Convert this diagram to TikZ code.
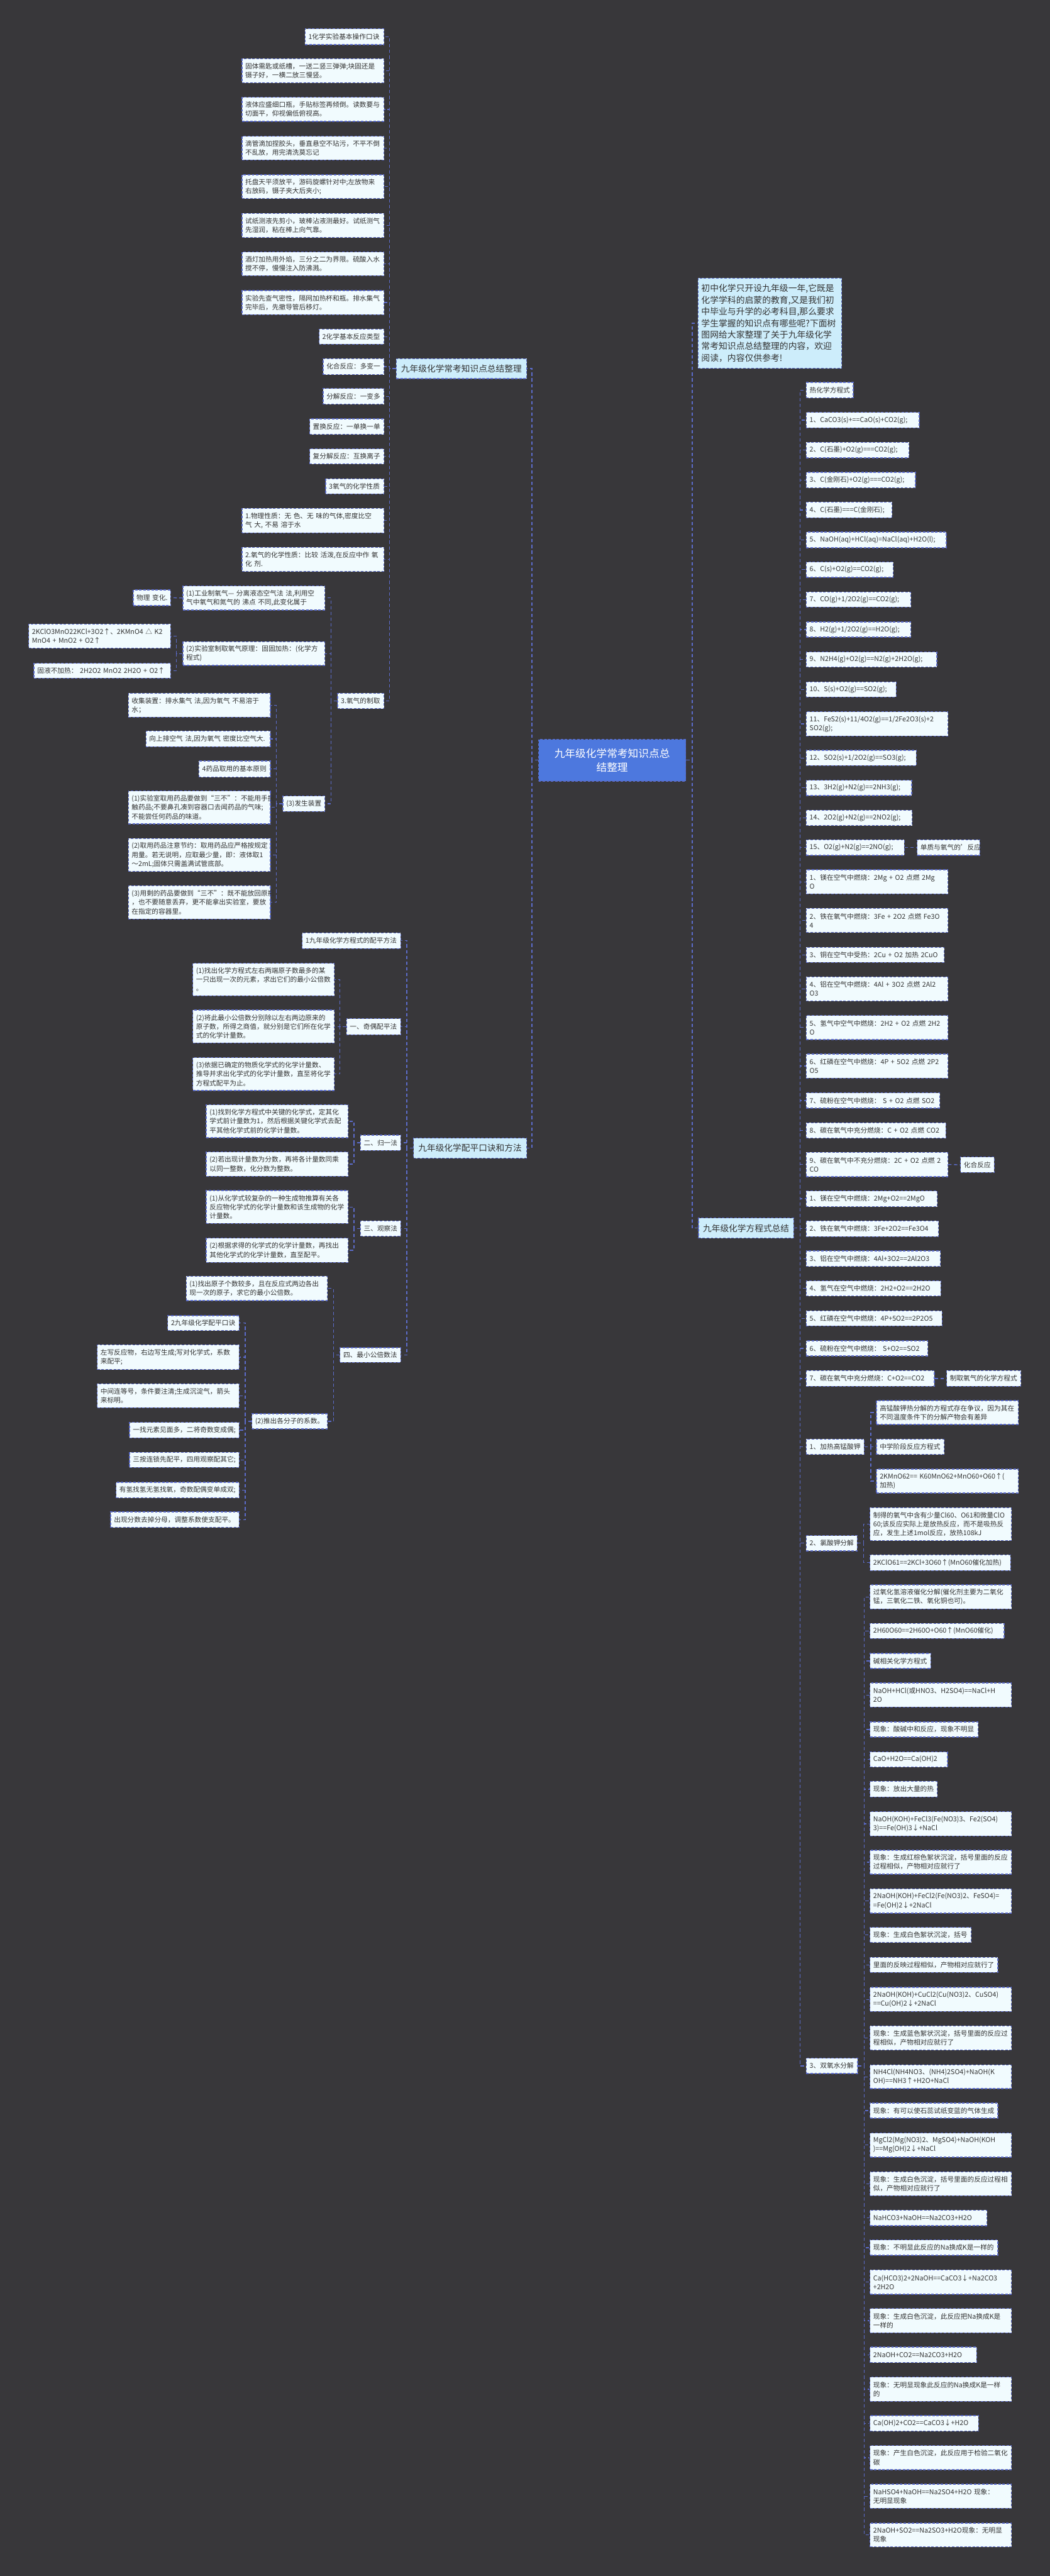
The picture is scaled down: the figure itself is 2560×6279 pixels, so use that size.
\documentclass[tikz,border=0pt]{standalone}
\usepackage{fontspec}
\setmainfont{Noto Sans CJK SC}
\definecolor{bgc}{HTML}{38373A}
\definecolor{boxf}{HTML}{F1FBFE}
\definecolor{brf}{HTML}{CDEDFB}
\definecolor{rootf}{HTML}{4D78DE}
\definecolor{bord}{HTML}{5C6CCB}
\definecolor{txt}{HTML}{333333}
\newcommand{\fsm}{\fontsize{4.1pt}{5.4pt}\selectfont}
\newcommand{\fbr}{\fontsize{5.25pt}{6.6pt}\selectfont}
\newcommand{\fintro}{\fontsize{5.3pt}{7.05pt}\selectfont}
\newcommand{\froot}{\fontsize{6.4pt}{8.4pt}\selectfont}
\newcommand{\mbx}[7][box]{%
  \pgfmathsetmacro{\bxw}{(#5-#3)*0.25}%
  \pgfmathsetmacro{\bxh}{(#6-#4)*0.25}%
  \pgfmathsetmacro{\bxt}{\bxw-4}%
  \node[#1, minimum width=\bxw pt, minimum height=\bxh pt, text width=\bxt pt] (#2) at ({(#3+#5)/2},{(#4+#6)/2}) {#7};}
\newcommand{\cnl}[2]{\draw[conn] (#1.west) -- ++(-15,0) |- (#2.east);}
\newcommand{\cnr}[2]{\draw[conn] (#1.east) -- ++(15,0) |- (#2.west);}
\begin{document}
\begin{tikzpicture}[x=0.25pt,y=-0.25pt,
  box/.style={draw=bord, fill=boxf, dash pattern=on 1.5pt off 1pt, line width=0.5pt, inner xsep=2pt, inner ysep=0pt, text=txt, font=\fsm, align=left},
  brst/.style={box, fill=brf, font=\fbr, align=center},
  introst/.style={box, fill=brf, font=\fintro, align=left},
  rootst/.style={box, fill=rootf, text=white, font=\froot, align=center},
  conn/.style={draw=bord, dash pattern=on 2pt off 1.5pt, line width=0.5pt}]
\fill[bgc] (0,0) rectangle (2560,6279);
\useasboundingbox (0,0) rectangle (2560,6279);

% root
\mbx[rootst]{root}{1313}{1802}{1672}{1904}{九年级化学常考知识点总\\结整理}

% ---------- branch 1 ----------
\mbx[brst]{b1}{966}{874}{1284}{923}{九年级化学常考知识点总结整理}
\mbx{a1}{744}{70}{936}{109}{1化学实验基本操作口诀}
\mbx{a2}{590}{143}{936}{202}{固体需匙或纸槽，一送二竖三弹弹;块固还是\\镊子好，一横二放三慢竖。}
\mbx{a3}{590}{237}{936}{296}{液体应盛细口瓶，手贴标签再倾倒。读数要与\\切面平，仰视偏低俯视高。}
\mbx{a4}{590}{332}{936}{390}{滴管滴加捏胶头，垂直悬空不玷污，不平不倒\\不乱放，用完清洗莫忘记}
\mbx{a5}{590}{426}{936}{484}{托盘天平须放平，游码旋螺针对中;左放物来\\右放码，镊子夹大后夹小;}
\mbx{a6}{590}{520}{936}{579}{试纸测液先剪小，玻棒沾液测最好。试纸测气\\先湿润，粘在棒上向气靠。}
\mbx{a7}{590}{614}{936}{672}{酒灯加热用外焰，三分之二为界限。硫酸入水\\搅不停，慢慢注入防沸溅。}
\mbx{a8}{590}{708}{936}{767}{实验先查气密性，隔网加热杯和瓶。排水集气\\完毕后，先撤导管后移灯。}
\mbx{a9}{778}{802}{936}{839}{2化学基本反应类型}
\mbx{a10}{788}{874}{936}{913}{化合反应：多变一}
\mbx{a11}{788}{947}{936}{985}{分解反应：一变多}
\mbx{a12}{755}{1021}{936}{1059}{置换反应：一单换一单}
\mbx{a13}{755}{1094}{936}{1131}{复分解反应：互换离子}
\mbx{a14}{794}{1167}{936}{1204}{3氧气的化学性质}
\mbx{a15}{590}{1239}{936}{1299}{1.物理性质：无~色、无~味的气体,密度比空\\气~大,~不易~溶于水}
\mbx{a16}{590}{1334}{936}{1393}{2.氧气的化学性质：比较~活泼,在反应中作~氧\\化~剂.}
\mbx{a17}{823}{1690}{936}{1727}{3.氧气的制取}
\mbx{c1}{446}{1428}{792}{1487}{(1)工业制氧气—~分离液态空气法~法,利用空\\气中氧气和氮气的~沸点~不同,此变化属于}
\mbx{d1}{325}{1438}{416}{1476}{物理~变化.}
\mbx{c2}{446}{1564}{792}{1622}{(2)实验室制取氧气原理：固固加热：(化学方\\程式)}
\mbx{d2}{70}{1521}{416}{1580}{2KClO3MnO22KCl+3O2↑、2KMnO4~△~K2\\MnO4~+~MnO2~+~O2↑}
\mbx{d3}{83}{1617}{416}{1653}{固液不加热：~2H2O2~MnO2~2H2O~+~O2↑}
\mbx{c3}{690}{1940}{792}{1978}{(3)发生装置}
\mbx{e1}{313}{1690}{659}{1748}{收集装置：排水集气~法,因为氧气~不易溶于\\水；}
\mbx{e2}{356}{1782}{659}{1820}{向上排空气~法,因为氧气~密度比空气大.}
\mbx{e3}{485}{1855}{659}{1894}{4药品取用的基本原则}
\mbx{e4}{313}{1928}{659}{2008}{(1)实验室取用药品要做到“三不”：不能用手接\\触药品;不要鼻孔凑到容器口去闻药品的气味;\\不能尝任何药品的味道。}
\mbx{e5}{313}{2044}{659}{2124}{(2)取用药品注意节约：取用药品应严格按规定\\用量。若无说明，应取最少量，即：液体取1\\～2mL;固体只需盖满试管底部。}
\mbx{e6}{313}{2159}{659}{2240}{(3)用剩的药品要做到“三不”：既不能放回原瓶\\，也不要随意丢弃，更不能拿出实验室，要放\\在指定的容器里。}

% ---------- branch 2 ----------
\mbx[brst]{b2}{1008}{2774}{1284}{2823}{九年级化学配平口诀和方法}
\mbx{f1}{737}{2274}{977}{2312}{1九年级化学方程式的配平方法}
\mbx{f2}{845}{2483}{977}{2522}{一、奇偶配平法}
\mbx{g1}{470}{2348}{815}{2427}{(1)找出化学方程式左右两端原子数最多的某\\一只出现一次的元素，求出它们的最小公倍数\\。}
\mbx{g2}{470}{2462}{815}{2542}{(2)将此最小公倍数分别除以左右两边原来的\\原子数，所得之商值，就分别是它们所在化学\\式的化学计量数。}
\mbx{g3}{470}{2578}{815}{2658}{(3)依据已确定的物质化学式的化学计量数、\\推导并求出化学式的化学计量数，直至将化学\\方程式配平为止。}
\mbx{f3}{879}{2767}{977}{2804}{二、归一法}
\mbx{g4}{503}{2693}{849}{2773}{(1)找到化学方程式中关键的化学式，定其化\\学式前计量数为1，然后根据关键化学式去配\\平其他化学式前的化学计量数。}
\mbx{g5}{503}{2808}{849}{2867}{(2)若出现计量数为分数，再将各计量数同乘\\以同一整数，化分数为整数。}
\mbx{f4}{879}{2976}{977}{3013}{三、观察法}
\mbx{g6}{503}{2902}{849}{2982}{(1)从化学式较复杂的一种生成物推算有关各\\反应物化学式的化学计量数和该生成物的化学\\计量数。}
\mbx{g7}{503}{3018}{849}{3077}{(2)根据求得的化学式的化学计量数，再找出\\其他化学式的化学计量数，直至配平。}
\mbx{f5}{829}{3285}{977}{3321}{四、最小公倍数法}
\mbx{g8}{454}{3111}{798}{3170}{(1)找出原子个数较多，且在反应式两边各出\\现一次的原子，求它的最小公倍数。}
\mbx{g9}{614}{3446}{798}{3483}{(2)推出各分子的系数。}
\mbx{h1}{409}{3207}{583}{3243}{2九年级化学配平口诀}
\mbx{h2}{237}{3278}{583}{3338}{左写反应物，右边写生成;写对化学式，系数\\来配平;}
\mbx{h3}{237}{3373}{583}{3431}{中间连等号，条件要注清;生成沉淀气，箭头\\来标明。}
\mbx{h4}{316}{3467}{583}{3505}{一找元素见面多，二将奇数变成偶;}
\mbx{h5}{316}{3540}{583}{3577}{三按连锁先配平，四用观察配其它;}
\mbx{h6}{283}{3613}{583}{3651}{有氢找氢无氢找氧，奇数配偶变单成双;}
\mbx{h7}{270}{3685}{583}{3723}{出现分数去掉分母，调整系数使支配平。}

% ---------- right side ----------
\mbx[introst]{intro}{1702}{678}{2052}{898}{初中化学只开设九年级一年,它既是\\化学学科的启蒙的教育,又是我们初\\中毕业与升学的必考科目,那么要求\\学生掌握的知识点有哪些呢?下面树\\图网给大家整理了关于九年级化学\\常考知识点总结整理的内容，欢迎\\阅读，内容仅供参考!}
\mbx[brst]{b3}{1703}{2969}{1935}{3018}{九年级化学方程式总结}
\mbx{r1}{1966}{932}{2080}{970}{热化学方程式}
\mbx{r2}{1966}{1005}{2241}{1043}{1、CaCO3(s)+==CaO(s)+CO2(g);}
\mbx{r3}{1966}{1078}{2216}{1116}{2、C(石墨)+O2(g)===CO2(g);}
\mbx{r4}{1966}{1151}{2232}{1189}{3、C(金刚石)+O2(g)===CO2(g);}
\mbx{r5}{1966}{1224}{2175}{1262}{4、C(石墨)===C(金刚石);}
\mbx{r6}{1966}{1297}{2307}{1335}{5、NaOH(aq)+HCl(aq)=NaCl(aq)+H2O(l);}
\mbx{r7}{1966}{1370}{2178}{1407}{6、C(s)+O2(g)==CO2(g);}
\mbx{r8}{1966}{1443}{2221}{1480}{7、CO(g)+1/2O2(g)==CO2(g);}
\mbx{r9}{1966}{1516}{2221}{1553}{8、H2(g)+1/2O2(g)==H2O(g);}
\mbx{r10}{1966}{1589}{2284}{1626}{9、N2H4(g)+O2(g)==N2(g)+2H2O(g);}
\mbx{r11}{1966}{1662}{2185}{1699}{10、S(s)+O2(g)==SO2(g);}
\mbx{r12}{1966}{1735}{2311}{1794}{11、FeS2(s)+11/4O2(g)==1/2Fe2O3(s)+2\\SO2(g);}
\mbx{r13}{1966}{1829}{2234}{1866}{12、SO2(s)+1/2O2(g)==SO3(g);}
\mbx{r14}{1966}{1902}{2223}{1939}{13、3H2(g)+N2(g)==2NH3(g);}
\mbx{r15}{1966}{1975}{2224}{2012}{14、2O2(g)+N2(g)==2NO2(g);}
\mbx{r16}{1966}{2047}{2205}{2085}{15、O2(g)+N2(g)==2NO(g);}
\mbx{s1}{2236}{2047}{2389}{2085}{单质与氧气的'反应}
\mbx{r17}{1966}{2120}{2311}{2179}{1、镁在空气中燃烧：2Mg~+~O2~点燃~2Mg\\O}
\mbx{r18}{1966}{2214}{2311}{2273}{2、铁在氧气中燃烧：3Fe~+~2O2~点燃~Fe3O\\4}
\mbx{r19}{1966}{2309}{2302}{2346}{3、铜在空气中受热：2Cu~+~O2~加热~2CuO}
\mbx{r20}{1966}{2381}{2311}{2440}{4、铝在空气中燃烧：4Al~+~3O2~点燃~2Al2\\O3}
\mbx{r21}{1966}{2475}{2311}{2534}{5、氢气中空气中燃烧：2H2~+~O2~点燃~2H2\\O}
\mbx{r22}{1966}{2569}{2311}{2628}{6、红磷在空气中燃烧：4P~+~5O2~点燃~2P2\\O5}
\mbx{r23}{1966}{2664}{2291}{2701}{7、硫粉在空气中燃烧：~S~+~O2~点燃~SO2}
\mbx{r24}{1966}{2737}{2306}{2774}{8、碳在氧气中充分燃烧：C~+~O2~点燃~CO2}
\mbx{r25}{1966}{2809}{2311}{2868}{9、碳在氧气中不充分燃烧：2C~+~O2~点燃~2\\CO}
\mbx{s2}{2342}{2820}{2424}{2858}{化合反应}
\mbx{r26}{1966}{2903}{2285}{2941}{1、镁在空气中燃烧：2Mg+O2==2MgO}
\mbx{r27}{1966}{2976}{2288}{3014}{2、铁在氧气中燃烧：3Fe+2O2==Fe3O4}
\mbx{r28}{1966}{3049}{2293}{3087}{3、铝在空气中燃烧：4Al+3O2==2Al2O3}
\mbx{r29}{1966}{3122}{2294}{3159}{4、氢气在空气中燃烧：2H2+O2==2H2O}
\mbx{r30}{1966}{3195}{2297}{3232}{5、红磷在空气中燃烧：4P+5O2==2P2O5}
\mbx{r31}{1966}{3268}{2262}{3305}{6、硫粉在空气中燃烧：~S+O2==SO2}
\mbx{r32}{1966}{3341}{2278}{3379}{7、碳在氧气中充分燃烧：C+O2==CO2}
\mbx{s3}{2308}{3341}{2489}{3379}{制取氧气的化学方程式}
\mbx{r33}{1966}{3508}{2107}{3545}{1、加热高锰酸钾}
\mbx{t1}{2137}{3414}{2483}{3472}{高锰酸钾热分解的方程式存在争议，因为其在\\不同温度条件下的分解产物会有差异}
\mbx{t2}{2137}{3508}{2302}{3545}{中学阶段反应方程式}
\mbx{t3}{2137}{3581}{2483}{3639}{2KMnO62==~K60MnO62+MnO60+O60↑(\\加热)}
\mbx{r34}{1966}{3743}{2090}{3780}{2、氯酸钾分解}
\mbx{t4}{2121}{3675}{2466}{3755}{制得的氧气中含有少量Cl60、O61和微量ClO\\60;该反应实际上是放热反应，而不是吸热反\\应，发生上述1mol反应，放热108kJ}
\mbx{t5}{2121}{3790}{2464}{3828}{2KClO61==2KCl+3O60↑(MnO60催化加热)}
\mbx{r35}{1966}{5017}{2091}{5054}{3、双氧水分解}
\mbx{u1}{2121}{3863}{2466}{3922}{过氧化氢溶液催化分解(催化剂主要为二氧化\\锰，三氧化二铁、氧化铜也可)。}
\mbx{u2}{2121}{3957}{2448}{3994}{2H60O60==2H60O+O60↑(MnO60催化)}
\mbx{u3}{2121}{4030}{2269}{4067}{碱相关化学方程式}
\mbx{u4}{2121}{4102}{2466}{4161}{NaOH+HCl(或HNO3、H2SO4)==NaCl+H\\2O}
\mbx{u5}{2121}{4197}{2385}{4234}{现象：酸碱中和反应，现象不明显}
\mbx{u6}{2121}{4270}{2310}{4307}{CaO+H2O==Ca(OH)2}
\mbx{u7}{2121}{4342}{2285}{4380}{现象：放出大量的热}
\mbx{u8}{2121}{4416}{2466}{4475}{NaOH(KOH)+FeCl3(Fe(NO3)3、Fe2(SO4)\\3)==Fe(OH)3↓+NaCl}
\mbx{u9}{2121}{4510}{2466}{4568}{现象：生成红棕色絮状沉淀，括号里面的反应\\过程相似，产物相对应就行了}
\mbx{u10}{2121}{4604}{2466}{4663}{2NaOH(KOH)+FeCl2(Fe(NO3)2、FeSO4)=\\=Fe(OH)2↓+2NaCl}
\mbx{u11}{2121}{4698}{2368}{4735}{现象：生成白色絮状沉淀，括号}
\mbx{u12}{2121}{4771}{2433}{4808}{里面的反映过程相似，产物相对应就行了}
\mbx{u13}{2121}{4844}{2466}{4903}{2NaOH(KOH)+CuCl2(Cu(NO3)2、CuSO4)\\==Cu(OH)2↓+2NaCl}
\mbx{u14}{2121}{4938}{2466}{4997}{现象：生成蓝色絮状沉淀，括号里面的反应过\\程相似，产物相对应就行了}
\mbx{u15}{2121}{5033}{2466}{5091}{NH4Cl(NH4NO3、(NH4)2SO4)+NaOH(K\\OH)==NH3↑+H2O+NaCl}
\mbx{u16}{2121}{5126}{2433}{5163}{现象：有可以使石蕊试纸变蓝的气体生成}
\mbx{u17}{2121}{5199}{2466}{5258}{MgCl2(Mg(NO3)2、MgSO4)+NaOH(KOH\\)==Mg(OH)2↓+NaCl}
\mbx{u18}{2121}{5294}{2466}{5352}{现象：生成白色沉淀，括号里面的反应过程相\\似，产物相对应就行了}
\mbx{u19}{2121}{5387}{2406}{5425}{NaHCO3+NaOH==Na2CO3+H2O}
\mbx{u20}{2121}{5460}{2433}{5497}{现象：不明显此反应的Na换成K是一样的}
\mbx{u21}{2121}{5533}{2466}{5592}{Ca(HCO3)2+2NaOH==CaCO3↓+Na2CO3\\+2H2O}
\mbx{u22}{2121}{5627}{2466}{5686}{现象：生成白色沉淀，此反应把Na换成K是\\一样的}
\mbx{u23}{2121}{5721}{2381}{5759}{2NaOH+CO2==Na2CO3+H2O}
\mbx{u24}{2121}{5794}{2466}{5853}{现象：无明显现象此反应的Na换成K是一样\\的}
\mbx{u25}{2121}{5888}{2386}{5926}{Ca(OH)2+CO2==CaCO3↓+H2O}
\mbx{u26}{2121}{5961}{2466}{6020}{现象：产生白色沉淀，此反应用于检验二氧化\\碳}
\mbx{u27}{2121}{6055}{2466}{6114}{NaHSO4+NaOH==Na2SO4+H2O~现象：\\无明显现象}
\mbx{u28}{2121}{6150}{2466}{6208}{2NaOH+SO2==Na2SO3+H2O现象：无明显\\现象}

% ---------- connectors ----------
\cnl{root}{b1}
\cnl{root}{b2}
\cnr{root}{intro}
\cnr{root}{b3}
\foreach \n in {a1,a2,a3,a4,a5,a6,a7,a8,a9,a10,a11,a12,a13,a14,a15,a16,a17} {\cnl{b1}{\n}}
\foreach \n in {c1,c2,c3} {\cnl{a17}{\n}}
\draw[conn] (c1.west) -- (d1.east);
\foreach \n in {d2,d3} {\cnl{c2}{\n}}
\foreach \n in {e1,e2,e3,e4,e5,e6} {\cnl{c3}{\n}}
\foreach \n in {f1,f2,f3,f4,f5} {\cnl{b2}{\n}}
\foreach \n in {g1,g2,g3} {\cnl{f2}{\n}}
\foreach \n in {g4,g5} {\cnl{f3}{\n}}
\foreach \n in {g6,g7} {\cnl{f4}{\n}}
\foreach \n in {g8,g9} {\cnl{f5}{\n}}
\foreach \n in {h1,h2,h3,h4,h5,h6,h7} {\cnl{g9}{\n}}
\foreach \n in {r1,r2,r3,r4,r5,r6,r7,r8,r9,r10,r11,r12,r13,r14,r15,r16,r17,r18,r19,r20,r21,r22,r23,r24,r25,r26,r27,r28,r29,r30,r31,r32,r33,r34,r35} {\cnr{b3}{\n}}
\draw[conn] (r16.east) -- (s1.west);
\draw[conn] (r25.east) -- (s2.west);
\draw[conn] (r32.east) -- (s3.west);
\foreach \n in {t1,t2,t3} {\cnr{r33}{\n}}
\foreach \n in {t4,t5} {\cnr{r34}{\n}}
\foreach \n in {u1,u2,u3,u4,u5,u6,u7,u8,u9,u10,u11,u12,u13,u14,u15,u16,u17,u18,u19,u20,u21,u22,u23,u24,u25,u26,u27,u28} {\cnr{r35}{\n}}
\end{tikzpicture}
\end{document}
